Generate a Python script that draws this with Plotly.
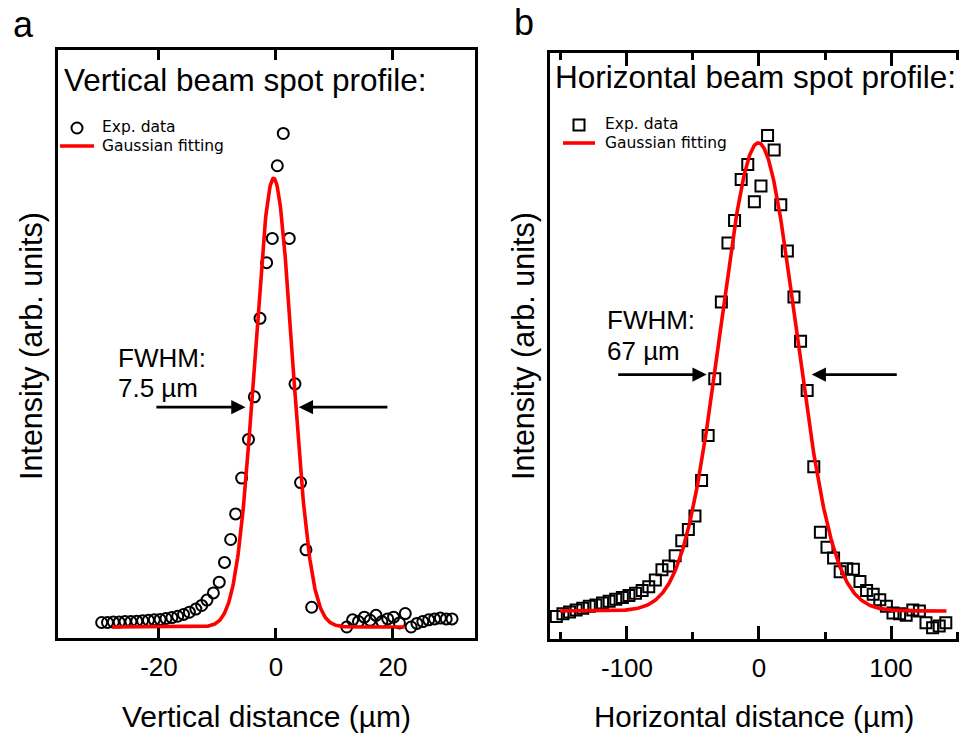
import numpy as np
import plotly.graph_objects as go

W, H = 959, 734

# ---- Panel a: vertical beam spot profile ----
vert_x = [-29.8, -28.8, -27.8, -26.8, -25.8, -24.8, -23.8, -22.8, -21.8, -20.8,
          -19.8, -18.8, -17.8, -16.8, -15.8, -14.8, -13.7, -12.7, -11.8, -10.7,
          -9.7, -8.8, -7.75, -6.9, -5.87, -4.7, -3.7, -2.73, -1.6, -0.63,
          0.23, 1.25, 2.27, 3.25, 4.2, 5.13, 6.1,
          12.1, 13.1, 14.1, 15.1, 16.1, 17.1, 18.1, 19.1, 20.1, 21.1,
          22.1, 23.1, 24.1, 25.1, 26.1, 27.1, 28.1, 29.1, 30.1]
vert_y = [0.010, 0.010, 0.011, 0.011, 0.012, 0.012, 0.013, 0.014, 0.015, 0.016,
          0.017, 0.019, 0.021, 0.024, 0.028, 0.033, 0.040, 0.048, 0.060, 0.076,
          0.100, 0.144, 0.195, 0.252, 0.332, 0.418, 0.513, 0.688, 0.812, 0.866,
          1.028, 1.100, 0.866, 0.542, 0.322, 0.172, 0.044,
          0.000, 0.016, 0.012, 0.022, 0.015, 0.026, 0.012, 0.018, 0.022, 0.009,
          0.030, 0.000, 0.008, 0.012, 0.016, 0.018, 0.020, 0.018, 0.018]
vert_center = -0.4
vert_fwhm = 7.5
vert_fit_span = [-28.0, 22.0]
vert_arrow_y = 0.49
vert_arrows = [(-20.7, -5.2), (19.3, 3.9)]   # (tail, head) in µm

# ---- Panel b: horizontal beam spot profile ----
horiz_x = [-153.5, -148.5, -143.5, -138.5, -133.5, -128.5, -123.5, -118.5, -113.5, -108.5,
           -103.5, -98.5, -93.5, -88.5, -83.5, -78.5, -73.5, -68.5, -63.5, -58.5,
           -53.5, -48.5, -43.5, -38.5, -33.5, -28.5, -23.5, -18.5, -13.5, -8.5,
           -3.5, 1.5, 6.5, 11.5, 16.5, 21.5, 26.5, 31.5, 36.5, 41.5,
           46.5, 51.5, 56.5, 61.5, 66.5, 71.5, 76.5, 81.5, 86.5, 91.5,
           96.5, 101.5, 106.5, 111.5, 116.5, 121.5, 126.5, 131.5, 136.5, 141.5]
horiz_y = [-0.012, -0.006, -0.002, 0.002, 0.006, 0.010, 0.013, 0.017, 0.021, 0.025,
           0.029, 0.033, 0.038, 0.044, 0.052, 0.066, 0.088, 0.096, 0.118, 0.150,
           0.174, 0.203, 0.279, 0.375, 0.496, 0.660, 0.786, 0.834, 0.922, 0.954,
           0.874, 0.908, 1.016, 0.985, 0.868, 0.769, 0.671, 0.576, 0.471, 0.308,
           0.168, 0.136, 0.113, 0.084, 0.090, 0.089, 0.063, 0.044, 0.036, 0.024,
           0.010, -0.004, -0.006, -0.009, 0.002, 0.000, -0.025, -0.036, -0.032, -0.025]
horiz_center = -0.5
horiz_fwhm = 67.0
horiz_fit_span = [-151.0, 142.0]
horiz_arrow_y = 0.505
horiz_arrows = [(-107.8, -39.6), (105.5, 39.9)]

vert_ticks = [-20, 0, 20]
vert_ticktext = ["-20", "0", "20"]
horiz_ticks = [-100, 0, 100]
horiz_ticktext = ["-100", "0", "100"]
horiz_minor = [-150, -50, 50, 150]

legend_labels = ["Exp. data", "Gaussian fitting"]


def gaussian(x, center, fwhm):
    sigma = fwhm / (2.0 * np.sqrt(2.0 * np.log(2.0)))
    return np.exp(-0.5 * ((x - center) / sigma) ** 2)


def px(xp):
    return xp / W


def py(yp):
    return 1.0 - yp / H


vx_fit = np.linspace(vert_fit_span[0], vert_fit_span[1], 600)
hx_fit = np.linspace(horiz_fit_span[0], horiz_fit_span[1], 600)

RED = "#ff0000"
SANS = "Liberation Sans, Arial, sans-serif"
LEG = "DejaVu Sans, Verdana, sans-serif"
FIT_W = 3.6

fig = go.Figure()
fig.add_trace(go.Scatter(
    x=vert_x, y=vert_y, mode="markers", name=legend_labels[0],
    marker=dict(symbol="circle-open", size=11, color="black", line=dict(width=2, color="black")),
    xaxis="x", yaxis="y"))
fig.add_trace(go.Scatter(
    x=vx_fit, y=gaussian(vx_fit, vert_center, vert_fwhm), mode="lines", name=legend_labels[1],
    line=dict(color=RED, width=FIT_W), xaxis="x", yaxis="y"))
fig.add_trace(go.Scatter(
    x=horiz_x, y=horiz_y, mode="markers", name=legend_labels[0],
    marker=dict(symbol="square-open", size=11, color="black", line=dict(width=2, color="black")),
    xaxis="x2", yaxis="y2"))
fig.add_trace(go.Scatter(
    x=hx_fit, y=gaussian(hx_fit, horiz_center, horiz_fwhm), mode="lines", name=legend_labels[1],
    line=dict(color=RED, width=FIT_W), xaxis="x2", yaxis="y2"))

axis_common = dict(showgrid=False, zeroline=False, showline=True, linecolor="black",
                   linewidth=2.5, tickcolor="black")
tickfont = dict(family=SANS, size=26, color="black")

fig.update_layout(
    width=W, height=H, margin=dict(l=0, r=0, t=0, b=0),
    paper_bgcolor="white", plot_bgcolor="white", showlegend=False,
    xaxis=dict(domain=[px(58), px(475)], range=[-37.26, 34.02], anchor="y",
               tickmode="array", tickvals=vert_ticks, ticktext=vert_ticktext,
               ticks="inside", ticklen=10, tickwidth=2.5, mirror="ticks",
               tickfont=tickfont, ticklabelstandoff=4, **axis_common),
    yaxis=dict(domain=[py(638), py(50)], range=[-0.0245, 1.286], anchor="x",
               showticklabels=False, ticks="", mirror=True, **axis_common),
    xaxis2=dict(domain=[px(550), 1.0], range=[-158.3, 151.5], anchor="y2",
                tickmode="array", tickvals=horiz_ticks, ticktext=horiz_ticktext,
                ticks="inside", ticklen=13, tickwidth=2.5, mirror="ticks",
                minor=dict(tickmode="array", tickvals=horiz_minor, ticks="inside",
                           ticklen=7, tickwidth=2.5, tickcolor="black"),
                tickfont=tickfont, ticklabelstandoff=4, **axis_common),
    yaxis2=dict(domain=[py(639), py(53)], range=[-0.0598, 1.192], anchor="x2",
                showticklabels=False, ticks="", mirror=False, **axis_common),
)

annotations = []
shapes = []


def text(x, y, s, size, family=SANS, xanchor="center", angle=0, pad=1):
    annotations.append(dict(x=px(x), y=py(y), xref="paper", yref="paper", text=s,
                            showarrow=False, xanchor=xanchor, yanchor="middle",
                            textangle=angle, borderpad=pad,
                            font=dict(family=family, size=size, color="black")))


def legend_block(x_line0, x_line1, y_marker, y_line, symbol, x_text):
    xc = 0.5 * (x_line0 + x_line1)
    r = 5.5
    shapes.append(dict(type="circle" if symbol == "circle" else "rect", xref="paper", yref="paper",
                       x0=px(xc - r), x1=px(xc + r), y0=py(y_marker + r), y1=py(y_marker - r),
                       line=dict(color="black", width=2), fillcolor="rgba(0,0,0,0)"))
    shapes.append(dict(type="line", xref="paper", yref="paper",
                       x0=px(x_line0), x1=px(x_line1), y0=py(y_line), y1=py(y_line),
                       line=dict(color=RED, width=FIT_W)))
    text(x_text, y_marker - 0.5, legend_labels[0], 15.5, family=LEG, xanchor="left", pad=0)
    text(x_text, y_line + 0.5, legend_labels[1], 15.5, family=LEG, xanchor="left", pad=0)


legend_block(60, 94, 128, 146, "circle", 101)
legend_block(563, 595, 125, 143, "square", 604)

# panel letters
text(23, 24, "a", 36)
text(524, 22, "b", 36)
# panel titles
text(62, 80, "Vertical beam spot profile:", 31.5, xanchor="left")
text(553, 77, "Horizontal beam spot profile:", 31.5, xanchor="left")
# axis titles
text(266, 716, "Vertical distance (µm)", 30)
text(754, 716, "Horizontal distance (µm)", 29.5)
text(31, 346, "Intensity (arb. units)", 30.5, angle=-90)
text(523, 346, "Intensity (arb. units)", 30.5, angle=-90)
# FWHM labels
text(116, 358, "FWHM:", 26, xanchor="left")
text(116, 388, "7.5 µm", 26, xanchor="left")
text(605, 320, "FWHM:", 26, xanchor="left")
text(605, 351, "67 µm", 26, xanchor="left")

# FWHM arrows
for tail, head in vert_arrows:
    annotations.append(dict(x=head, y=vert_arrow_y, ax=tail, ay=vert_arrow_y,
                            xref="x", yref="y", axref="x", ayref="y", text="",
                            showarrow=True, arrowhead=2, arrowsize=1.1, arrowwidth=2.6,
                            arrowcolor="black"))
for tail, head in horiz_arrows:
    annotations.append(dict(x=head, y=horiz_arrow_y, ax=tail, ay=horiz_arrow_y,
                            xref="x2", yref="y2", axref="x2", ayref="y2", text="",
                            showarrow=True, arrowhead=2, arrowsize=1.1, arrowwidth=2.6,
                            arrowcolor="black"))

fig.update_layout(annotations=annotations, shapes=shapes)

fig.write_html("out.html")
